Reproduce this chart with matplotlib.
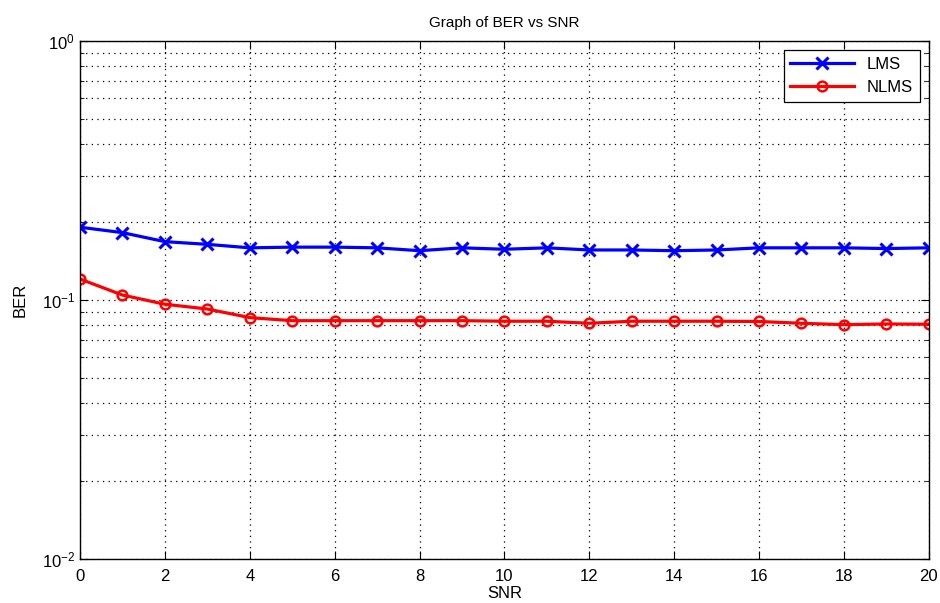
import matplotlib
matplotlib.use("Agg")
import matplotlib.pyplot as plt
from matplotlib.ticker import LogLocator, NullFormatter, MultipleLocator

plt.rcParams["font.family"] = ["Liberation Sans", "DejaVu Sans"]

# data
snr = list(range(0, 21))
ber_lms = [0.191, 0.182, 0.168, 0.164, 0.159, 0.160, 0.160, 0.159, 0.155, 0.159, 0.157,
           0.159, 0.156, 0.156, 0.155, 0.156, 0.159, 0.159, 0.159, 0.158, 0.159]
ber_nlms = [0.1205, 0.1045, 0.0963, 0.0923, 0.0855, 0.0832, 0.0832, 0.0832, 0.0832, 0.0832, 0.0828,
            0.0828, 0.0813, 0.0828, 0.0828, 0.0828, 0.0826, 0.0813, 0.0803, 0.0808, 0.0806]

fig = plt.figure(figsize=(9.4, 6.03), dpi=100)
ax = fig.add_axes([0.0851, 0.073, 0.903, 0.859])

ax.semilogy(snr, ber_lms, color="#0000ff", lw=2.3, marker="x", ms=8, mew=2.2, label="LMS")
ax.semilogy(snr, ber_nlms, color="#ff0000", lw=2.3, marker="o", ms=7, mew=1.8,
            mfc="none", label="NLMS")

ax.set_xlim(0, 20)
ax.set_ylim(1e-2, 1e0)
ax.xaxis.set_major_locator(MultipleLocator(2))
ax.yaxis.set_major_locator(LogLocator(base=10, numticks=5))
ax.yaxis.set_minor_locator(LogLocator(base=10, subs=range(2, 10), numticks=20))
ax.yaxis.set_minor_formatter(NullFormatter())

grid_ls = (0, (1, 3.5))
ax.grid(True, which="major", ls=grid_ls, color="black", lw=0.9)
ax.grid(True, which="minor", axis="y", ls=grid_ls, color="black", lw=0.9)
ax.tick_params(which="both", direction="in", top=True, right=True, labelsize=12)
ax.tick_params(which="major", length=6)
ax.tick_params(which="minor", length=3)
ax.tick_params(axis="x", pad=7)
for s in ax.spines.values():
    s.set_linewidth(1.0)

ax.set_title("Graph of BER vs SNR", fontsize=11, pad=10)
ax.set_xlabel("SNR", fontsize=12, labelpad=2)
ax.set_ylabel("BER", fontsize=12, labelpad=10)

leg = ax.legend(loc="upper right", fontsize=12, fancybox=False, framealpha=1,
                edgecolor="black", handlelength=3.8, borderaxespad=0.55)
leg.get_frame().set_linewidth(0.9)

fig.savefig("out.png", dpi=100)
